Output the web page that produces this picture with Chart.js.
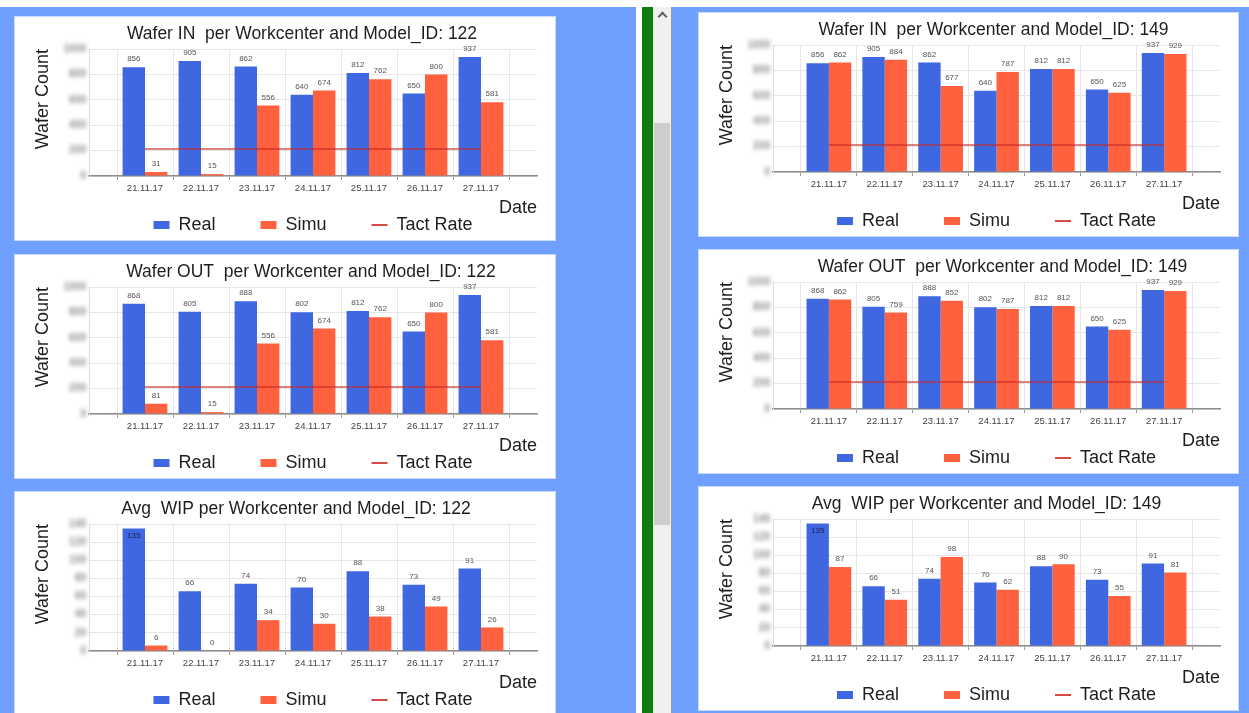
<!DOCTYPE html>
<html>
<head>
<meta charset="utf-8">
<script src="https://cdn.jsdelivr.net/npm/chart.js@4.4.1/dist/chart.umd.min.js"></script>
<style>
  html, body { margin: 0; padding: 0; width: 1249px; height: 713px; overflow: hidden; background: #ffffff; }
  .pane { position: absolute; top: 7px; bottom: 0; background: #6fa0ff; }
  #leftPane { left: 0; width: 636px; }
  #rightPane { left: 672px; right: 0; }
  #splitter { position: absolute; left: 642px; width: 11px; top: 7px; bottom: 0; background: #107c10; }
  #scroll { position: absolute; left: 653px; width: 18px; top: 7px; bottom: 0; background: #f0f0f0; border-right: 1px solid #9a9a9a; }
  #thumb { position: absolute; left: 1px; right: 1px; top: 116px; height: 402px; background: #cdcdcd; }
  #arrow { position: absolute; left: 6px; top: 6px; width: 5px; height: 5px; border-left: 2px solid #606060; border-top: 2px solid #606060; transform: rotate(45deg); }
  .card { position: absolute; background: #ffffff; box-shadow: 0 0 0 1px #c9d9ff; }
  .card canvas { position: absolute; left: 0; top: 0; }
</style>
</head>
<body>
<div class="pane" id="leftPane"></div>
<div id="splitter"></div>
<div id="scroll"><div id="arrow"></div><div id="thumb"></div></div>
<div class="pane" id="rightPane"></div>
<script>
// ---- chart values ----
const dates = ['21.11.17', '22.11.17', '23.11.17', '24.11.17', '25.11.17', '26.11.17', '27.11.17'];

const waferInReal122  = [856, 905, 862, 640, 812, 650, 937];
const waferInSimu122  = [31, 15, 556, 674, 762, 800, 581];
const waferOutReal122 = [868, 805, 888, 802, 812, 650, 937];
const waferOutSimu122 = [81, 15, 556, 674, 762, 800, 581];
const wipReal122      = [135, 66, 74, 70, 88, 73, 91];
const wipSimu122      = [6, 0, 34, 30, 38, 49, 26];

const waferInReal149  = [856, 905, 862, 640, 812, 650, 937];
const waferInSimu149  = [862, 884, 677, 787, 812, 625, 929];
const waferOutReal149 = [868, 805, 888, 802, 812, 650, 937];
const waferOutSimu149 = [862, 759, 852, 787, 812, 625, 929];
const wipReal149      = [135, 66, 74, 70, 88, 73, 91];
const wipSimu149      = [87, 51, 98, 62, 90, 55, 81];

const tactRateIn122  = [212, 212, 212, 212, 212, 212, 212];
const tactRateOut122 = [212, 212, 212, 212, 212, 212, 212];
const tactRateIn149  = [212, 212, 212, 212, 212, 212, 212];
const tactRateOut149 = [212, 212, 212, 212, 212, 212, 212];
const tactRateWip    = [];

// y axis ranges: [min, max, step]
const waferAxis = [0, 1000, 200];
const wipAxis   = [0, 140, 20];

const seriesNames = ['Real', 'Simu', 'Tact Rate'];

// ---- look ----
const FONT = "'Liberation Sans', Arial, sans-serif";
const TEXT = '#1e1e1e';
const BLUE = '#3f67e0';
const ORANGE = '#ff613e';
const TACT = 'rgba(200, 40, 40, 0.58)';
const TACT_KEY = '#d94a44';
const CARD_H = 223;

const panels = [
  { title: 'Wafer IN  per Workcenter and Model_ID: 122',  real: waferInReal122,  simu: waferInSimu122,  tact: tactRateIn122,  axis: waferAxis, x: 15,  y: 17,  w: 540, shift: -11 },
  { title: 'Wafer OUT  per Workcenter and Model_ID: 122', real: waferOutReal122, simu: waferOutSimu122, tact: tactRateOut122, axis: waferAxis, x: 15,  y: 255, w: 540, shift: -2 },
  { title: 'Avg  WIP per Workcenter and Model_ID: 122',   real: wipReal122,      simu: wipSimu122,      tact: tactRateWip,    axis: wipAxis,   x: 15,  y: 492, w: 540, shift: -17 },
  { title: 'Wafer IN  per Workcenter and Model_ID: 149',  real: waferInReal149,  simu: waferInSimu149,  tact: tactRateIn149,  axis: waferAxis, x: 699, y: 13,  w: 539, shift: -3 },
  { title: 'Wafer OUT  per Workcenter and Model_ID: 149', real: waferOutReal149, simu: waferOutSimu149, tact: tactRateOut149, axis: waferAxis, x: 699, y: 250, w: 539, shift: 6 },
  { title: 'Avg  WIP per Workcenter and Model_ID: 149',   real: wipReal149,      simu: wipSimu149,      tact: tactRateWip,    axis: wipAxis,   x: 699, y: 487, w: 539, shift: -10 }
];

// one empty slot on each side of the dates, like the original dashboard axis
const padSlots = arr => [null].concat(arr, [null]);

// legend under the plot, title nudged to its place
const placement = {
  id: 'placement',
  afterLayout(chart) {
    const area = chart.chartArea;
    const lg = chart.legend;
    if (lg) {
      lg.left = area.left;
      lg.right = area.right;
      lg.width = area.right - area.left;
      lg.top = 208 - 9 - lg.options.labels.padding;
      lg.bottom = chart.height;
      lg.height = lg.bottom - lg.top;
    }
    const tb = chart.titleBlock;
    if (tb) {
      const half = (tb.right - tb.left) / 2;
      const c = (area.left + area.right) / 2 + chart.options.plugins.placement.shift;
      tb.left = c - half;
      tb.right = c + half;
    }
  }
};

// soft, blurred y tick values (drawn as a blurred shadow of off-canvas text)
const blurredTicks = {
  id: 'blurredTicks',
  afterDraw(chart) {
    const s = chart.scales.y;
    const ctx = chart.ctx;
    const away = 3000;
    ctx.save();
    ctx.fillStyle = '#000000';
    ctx.shadowColor = 'rgba(125, 125, 125, 0.95)';
    ctx.shadowBlur = 4;
    ctx.shadowOffsetX = away;
    ctx.shadowOffsetY = 0;
    ctx.font = 'bold 10px ' + FONT;
    ctx.textAlign = 'right';
    ctx.textBaseline = 'middle';
    s.ticks.forEach(t => {
      ctx.fillText(String(t.value), chart.chartArea.left - 3 - away, s.getPixelForValue(t.value));
    });
    ctx.restore();
  }
};

// value printed over every bar
const barValues = {
  id: 'barValues',
  afterDatasetsDraw(chart) {
    const ctx = chart.ctx;
    ctx.save();
    ctx.font = '8px ' + FONT;
    ctx.textAlign = 'center';
    ctx.textBaseline = 'middle';
    chart.data.datasets.forEach((ds, di) => {
      if (ds.type !== 'bar') return;
      const meta = chart.getDatasetMeta(di);
      meta.data.forEach((el, i) => {
        const v = ds.data[i];
        if (v === null || v === undefined) return;
        const inside = el.y - chart.chartArea.top < 6;
        ctx.fillStyle = inside ? '#1b2450' : '#555555';
        ctx.fillText(String(v), el.x, inside ? el.y + 7 : el.y - 8);
      });
    });
    ctx.restore();
  }
};

function legendLabels(chart) {
  const items = Chart.defaults.plugins.legend.labels.generateLabels(chart);
  items.forEach(it => {
    const ds = chart.data.datasets[it.datasetIndex];
    if (ds.type === 'line') {
      it.pointStyle = 'line';
      it.strokeStyle = TACT_KEY;
      it.lineWidth = 2;
    } else {
      it.pointStyle = 'rect';
      it.lineWidth = 0;
    }
  });
  return items;
}

panels.forEach(p => {
  const card = document.createElement('div');
  card.className = 'card';
  card.style.left = p.x + 'px';
  card.style.top = p.y + 'px';
  card.style.width = p.w + 'px';
  card.style.height = CARD_H + 'px';
  const cv = document.createElement('canvas');
  cv.width = p.w;
  cv.height = CARD_H;
  cv.style.width = p.w + 'px';
  cv.style.height = CARD_H + 'px';
  card.appendChild(cv);
  document.body.appendChild(card);

  new Chart(cv, {
    data: {
      labels: [''].concat(dates, ['']),
      datasets: [
        { type: 'bar', label: seriesNames[0], data: padSlots(p.real), backgroundColor: BLUE, order: 1 },
        { type: 'bar', label: seriesNames[1], data: padSlots(p.simu), backgroundColor: ORANGE, order: 1 },
        { type: 'line', label: seriesNames[2], data: p.tact.length ? padSlots(p.tact) : [],
          borderColor: TACT, backgroundColor: TACT, borderWidth: 2, pointRadius: 0, fill: false, order: 0 }
      ]
    },
    options: {
      responsive: false,
      animation: false,
      devicePixelRatio: 1,
      categoryPercentage: 0.8,
      barPercentage: 1.0,
      layout: { padding: { left: 0, right: 18, top: 0, bottom: 0 } },
      plugins: {
        placement: { shift: p.shift },
        tooltip: { enabled: false },
        title: {
          display: true, text: p.title, color: TEXT,
          font: { family: FONT, size: 17.5, weight: 'normal' },
          padding: { top: 6.5, bottom: 4.5 }
        },
        legend: {
          position: 'bottom',
          maxHeight: 21,
          labels: {
            usePointStyle: true, pointStyleWidth: 16, boxHeight: 8, padding: 45,
            color: TEXT, font: { family: FONT, size: 18 },
            generateLabels: legendLabels,
            sort: (a, b) => a.datasetIndex - b.datasetIndex
          }
        }
      },
      scales: {
        x: {
          type: 'category',
          offset: false,
          grid: { color: '#e6e6e6', tickLength: 4, tickColor: '#9a9a9a' },
          border: { color: '#8c8c8c', width: 1.5 },
          ticks: { color: '#444444', font: { family: FONT, size: 9.5 }, padding: 3, autoSkip: false, maxRotation: 0 },
          title: { display: true, text: 'Date', align: 'end', color: TEXT, font: { family: FONT, size: 18 }, padding: 0 },
          afterFit(s) { s.height = 43; }
        },
        y: {
          min: p.axis[0], max: p.axis[1],
          ticks: { stepSize: p.axis[2], display: false },
          grid: { color: '#e6e6e6', drawTicks: false },
          border: { color: '#dcdcdc' },
          title: { display: true, text: 'Wafer Count', align: 'end', color: TEXT, font: { family: FONT, size: 18 }, padding: { top: 17, bottom: 0 } },
          afterFit(s) { s.width = 74; }
        }
      }
    },
    plugins: [placement, blurredTicks, barValues]
  });
});
</script>
</body>
</html>
